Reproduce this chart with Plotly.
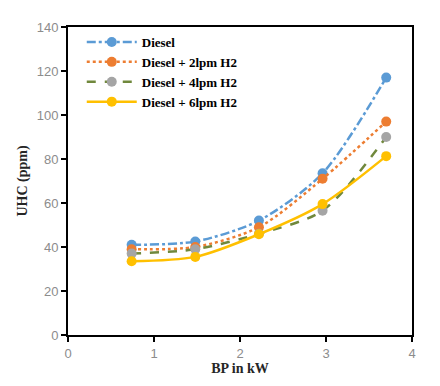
import plotly.graph_objects as go

bp = [0.74, 1.48, 2.22, 2.96, 3.70]
diesel = [41, 42.5, 52, 73.5, 117]
h2_2 = [39, 40, 49, 71, 97]
h2_4 = [37, 39, 46, 56.5, 90]
h2_6 = [33.5, 35.5, 45.8, 59.5, 81.3]

series = [
    ("Diesel", diesel, "#5B9BD5", "#5B9BD5", "dashdot"),
    ("Diesel + 2lpm H2", h2_2, "#ED7D31", "#ED7D31", "dot"),
    ("Diesel + 4lpm H2", h2_4, "#70883C", "#A5A5A5", "dash"),
    ("Diesel + 6lpm H2", h2_6, "#FFC000", "#FFC000", "solid"),
]

fig = go.Figure()
for name, ys, lc, mc, dash in series:
    fig.add_trace(go.Scatter(
        x=bp, y=ys, name=name, mode="lines+markers",
        line=dict(color=lc, width=2.5, dash=dash, shape="spline", smoothing=0.8),
        marker=dict(color=mc, size=10),
    ))

tickfont = dict(family="Liberation Sans", size=13, color="#8C8C8C")
titlefont = dict(family="Liberation Serif", size=14, color="#262626")

fig.update_layout(
    width=440, height=386,
    margin=dict(l=60, r=36, t=19, b=59),
    paper_bgcolor="white", plot_bgcolor="white",
    showlegend=True,
    legend=dict(x=0.04, y=1.0, xanchor="left", yanchor="top",
                font=dict(family="Liberation Serif", size=13, color="#000000", weight="bold"),
                bgcolor="rgba(255,255,255,0)", itemwidth=50, tracegroupgap=0),
    xaxis=dict(range=[0, 4], dtick=1, showgrid=False, zeroline=False,
               showline=True, linecolor="black", linewidth=2, mirror=True,
               ticks="outside", ticklen=5, tickcolor="black", tickwidth=1.5,
               tickfont=tickfont,
               title=dict(text="<b>BP in kW</b>", font=titlefont, standoff=4)),
    yaxis=dict(range=[0, 140], dtick=20, showgrid=False, zeroline=False,
               showline=True, linecolor="black", linewidth=2, mirror=True,
               ticks="outside", ticklen=5, tickcolor="black", tickwidth=1.5,
               tickfont=tickfont,
               title=dict(text="<b>UHC (ppm)</b>", font=titlefont, standoff=6)),
)

fig.write_html("out.html")
